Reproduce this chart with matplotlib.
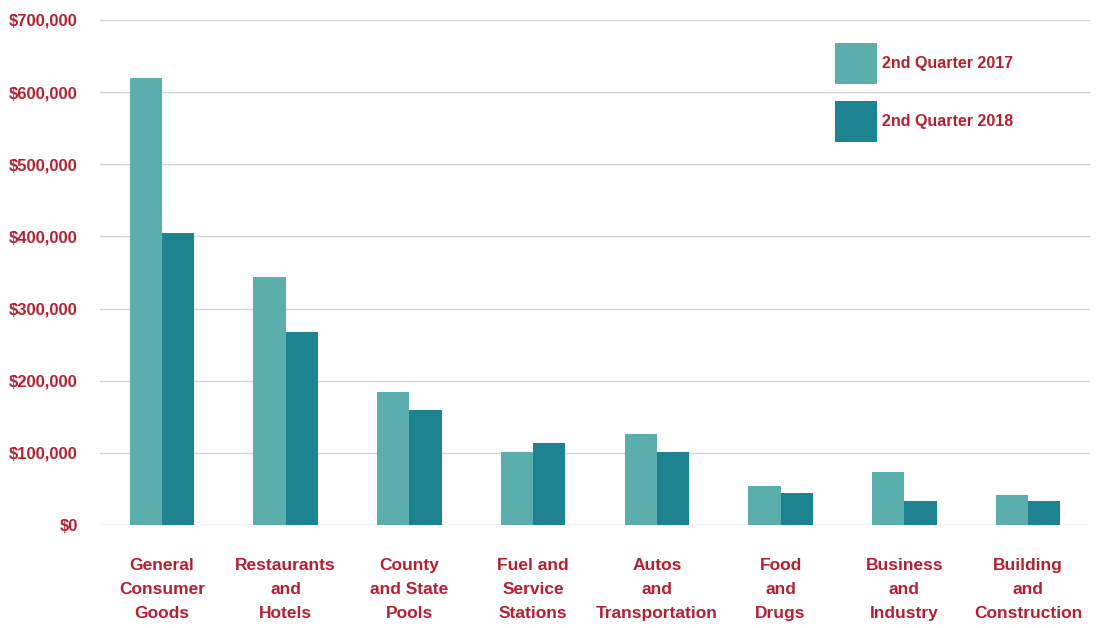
import numpy as np
import matplotlib.pyplot as plt
from matplotlib.ticker import FuncFormatter

# Tax collections by category, 2nd quarter
categories = ['General\nConsumer\nGoods', 'Restaurants\nand\nHotels', 'County\nand State\nPools',
              'Fuel and\nService\nStations', 'Autos\nand\nTransportation', 'Food\nand\nDrugs',
              'Business\nand\nIndustry', 'Building\nand\nConstruction']
q2_2017 = [620000, 344000, 184000, 101000, 126000, 54000, 73000, 42000]
q2_2018 = [405000, 267000, 159000, 114000, 101000, 44000, 33000, 33000]
series_labels = ['2nd Quarter 2017', '2nd Quarter 2018']

red = '#b5202e'
light_teal = '#5aaeac'
dark_teal = '#1e8391'

plt.rcParams['font.family'] = ['Liberation Sans', 'DejaVu Sans']

fig = plt.figure(figsize=(11.02, 6.28), dpi=100)
ax = fig.add_axes([100 / 1102, 103 / 628, 990 / 1102, 505 / 628])

x = np.arange(len(categories))
w = 0.26
ax.bar(x - w / 2, q2_2017, width=w, color=light_teal, label=series_labels[0], zorder=3)
ax.bar(x + w / 2, q2_2018, width=w, color=dark_teal, label=series_labels[1], zorder=3)

ax.set_xlim(-0.5, len(categories) - 0.5)
ax.set_ylim(0, 700000)
ax.set_yticks(np.arange(0, 700001, 100000))
ax.yaxis.set_major_formatter(FuncFormatter(lambda v, p: '${:,.0f}'.format(v)))
ax.set_xticks(x)
ax.set_xticklabels(categories, linespacing=1.75)

ax.tick_params(axis='y', length=0, pad=16, labelsize=12, labelcolor=red)
ax.tick_params(axis='x', length=0, pad=24, labelsize=12.5, labelcolor=red)
for lbl in ax.get_xticklabels() + ax.get_yticklabels():
    lbl.set_fontweight('bold')

ax.grid(axis='y', color='#d4d4d4', linewidth=1, zorder=0)
for s in ax.spines.values():
    s.set_visible(False)

leg = ax.legend(loc='upper left', bbox_to_anchor=(0.734, 0.97), frameon=False,
                borderpad=0, handlelength=2.63, handleheight=3.56, labelspacing=1.06,
                handletextpad=0.35, prop={'size': 11.5, 'weight': 'bold'})
for t in leg.get_texts():
    t.set_color(red)

fig.savefig('out.png', dpi=100)
